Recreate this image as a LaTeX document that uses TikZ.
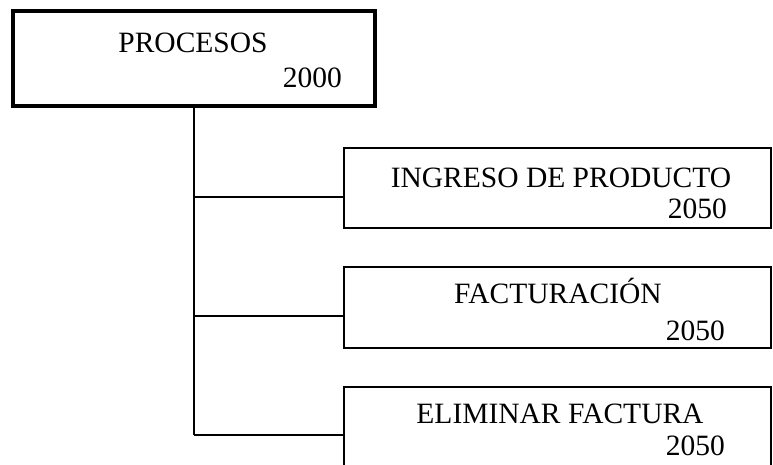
\documentclass[tikz,border=0pt]{standalone}
\usepackage{fontspec}
\setmainfont{Liberation Serif}
\usetikzlibrary{calc,positioning}

\begin{document}
\begin{tikzpicture}[x=1pt, y=-1pt,
  box/.style={draw, line width=1.2pt, inner sep=0pt, outer sep=0pt},
  topbox/.style={draw, line width=3.6pt, inner sep=0pt, outer sep=0pt},
  lbl/.style={font=\fontsize{29.5}{30}\selectfont, inner sep=0pt}]
\clip (0,0) rectangle (773,465);
%boxes
\node[topbox, minimum width=362pt, minimum height=95pt] (procesos) at (194,58.5) {};
\node[box, minimum width=427pt, minimum height=80pt] (ingreso) at (557.5,188) {};
\node[box, minimum width=427pt, minimum height=81pt] (factura) at (557.5,307.5) {};
\node[box, minimum width=427pt, minimum height=83pt] (eliminar) at (557.5,428.5) {};
%texts
\path (193,53) node[lbl, anchor=base] (procesosT) {PROCESOS};
\path (342,88) node[lbl, anchor=base east] (procesosN) {2000};
\path (561,187) node[lbl, anchor=base] (ingresoT) {INGRESO DE PRODUCTO};
\path (727,218) node[lbl, anchor=base east] (ingresoN) {2050};
\path (558,303) node[lbl, anchor=base] (facturaT) {FACTURACIÓN};
\path (725,340) node[lbl, anchor=base east] (facturaN) {2050};
\path (560,423) node[lbl, anchor=base] (eliminarT) {ELIMINAR FACTURA};
\path (725,455) node[lbl, anchor=base east] (eliminarN) {2050};
%connectors
\coordinate (c1) at (194,197);
\coordinate (c2) at (194,316);
\coordinate (c3) at (194,435);
\draw[line width=1.2pt] (procesos.south) -- (c3);
\draw[line width=1.2pt] (c1) -- (c1 -| ingreso.west);
\draw[line width=1.2pt] (c2) -- (c2 -| factura.west);
\draw[line width=1.2pt] (c3) -- (c3 -| eliminar.west);
\end{tikzpicture}
\end{document}
